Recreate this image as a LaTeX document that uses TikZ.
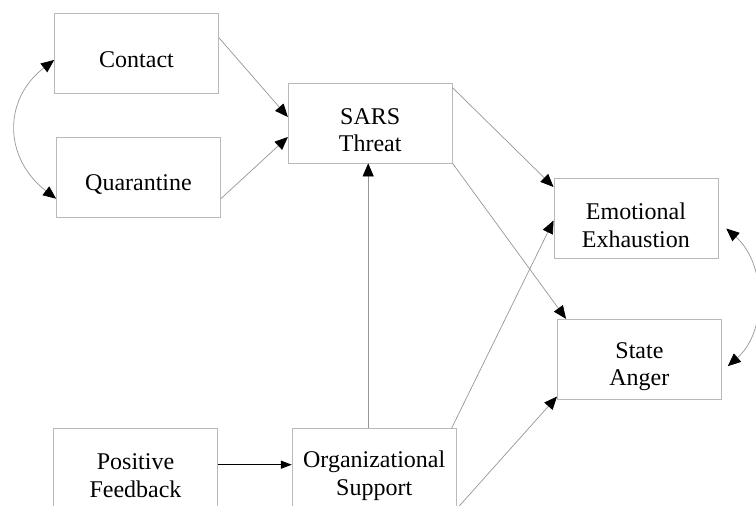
\documentclass[tikz,border=0pt]{standalone}
\usepackage{fontspec}
\setmainfont{Liberation Serif}
\usetikzlibrary{arrows.meta, positioning}

\definecolor{boxgray}{RGB}{185,185,185}
\definecolor{linegray}{RGB}{150,150,150}

\begin{document}
\begin{tikzpicture}[
          construct/.style={rectangle, draw=boxgray, line width=0.7bp, minimum width=164bp, minimum height=80bp, inner sep=0pt, text height=30bp, align=center, font=\fontsize{24bp}{27.6bp}\selectfont},
          twoline/.style={construct, text height=58bp},
          path/.style={draw=linegray, line width=0.7bp, -{Triangle[length=13bp, width=11bp, black]}},
          cov/.style={draw=linegray, line width=0.7bp, {Triangle[length=13bp, width=11bp, black]}-{Triangle[length=13bp, width=11bp, black]}},
          strong/.style={draw=black, line width=1.3bp, -{Triangle[length=11bp, width=8bp]}}]

        \useasboundingbox (0,0) rectangle (756bp,-506bp);

        \node [construct] (contact) at (136.5bp,-53bp) {Contact};
        \node [construct, below=44bp of contact, xshift=2bp] (quarantine) {Quarantine};
        \node [twoline, right=69bp of contact, yshift=-70bp] (sars) {SARS\\Threat};
        \node [twoline, right=101bp of sars, yshift=-95.5bp] (exhaustion) {Emotional\\Exhaustion};
        \node [twoline, below=60bp of exhaustion, xshift=3.5bp] (anger) {State\\Anger};
        \node [twoline, below=265bp of sars, xshift=4bp] (support) {Organizational\\Support};
        \node [twoline, left=74bp of support] (feedback) {Positive\\Feedback};

        % exogenous correlation
        \draw [cov] ([yshift=-7bp]contact.west) .. controls +(-52bp,-40bp) and +(-52bp,40bp) .. ([yshift=-21bp]quarantine.west);

        \draw [path] ([yshift=-25bp]contact.north east) -- ([yshift=6bp]sars.west);
        \draw [path] ([yshift=-21bp]quarantine.east) -- ([yshift=-14bp]sars.west);
        \draw [path] ([yshift=-5bp]sars.north east) -- ([yshift=31.5bp]exhaustion.west);
        \draw [path] (sars.south east) -- ([xshift=9bp]anger.north west);
        \draw [path] ([xshift=-6bp]support.north) -- ([xshift=-2bp]sars.south);
        \draw [path] ([xshift=-5bp]support.north east) -- ([yshift=-2bp]exhaustion.west);
        \draw [path] (support.south east) -- ([yshift=3bp]anger.south west);
        \draw [strong] ([yshift=4bp]feedback.east) -- ([yshift=4bp]support.west);

        % outcome correlation
        \draw [cov] ([xshift=8bp, yshift=-10bp]exhaustion.east) .. controls +(40bp,-35bp) and +(40bp,35bp) .. ([xshift=6bp, yshift=-7bp]anger.east);
      \end{tikzpicture}
\end{document}
